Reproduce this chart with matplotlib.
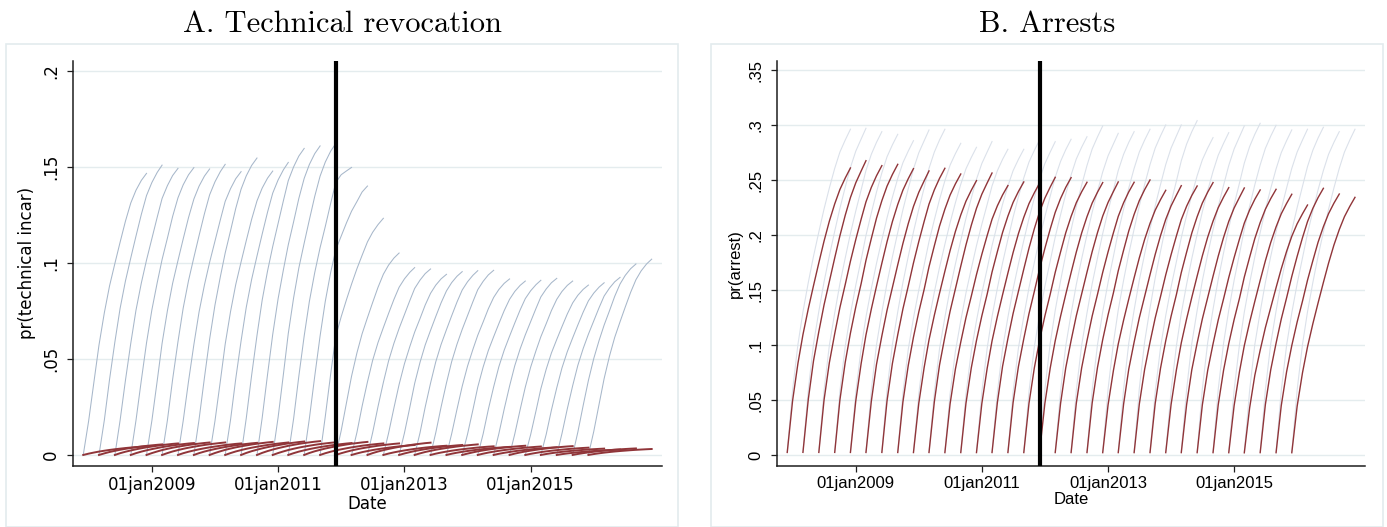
import numpy as np
import pandas as pd
import matplotlib
matplotlib.use("Agg")
import matplotlib.pyplot as plt
from matplotlib.patches import Rectangle
from datetime import datetime

# Quarterly release cohorts, each followed month by month for one year
cohort_starts = pd.date_range("2007-12-01", periods=33, freq="3MS")
months_since_release = np.arange(13)
reform_date = datetime(2011, 12, 1)

x_ticks = [datetime(2009, 1, 1), datetime(2011, 1, 1),
           datetime(2013, 1, 1), datetime(2015, 1, 1)]
x_tick_labels = ["01jan2009", "01jan2011", "01jan2013", "01jan2015"]

tech_yticks = [0, 0.05, 0.10, 0.15, 0.20]
tech_ytick_labels = ["0", ".05", ".1", ".15", ".2"]
arrest_yticks = [0, 0.05, 0.10, 0.15, 0.20, 0.25, 0.30, 0.35]
arrest_ytick_labels = ["0", ".05", ".1", ".15", ".2", ".25", ".3", ".35"]

# Panel A: 12-month probability of technical incarceration by cohort
tech_12m = [0.1467, 0.1510, 0.1493, 0.1497, 0.1490, 0.1514, 0.1476, 0.1547,
            0.1479, 0.1524, 0.1597, 0.1610, 0.1623, 0.1498, 0.1401, 0.1233,
            0.1052, 0.0976, 0.0969, 0.0941, 0.0955, 0.0960, 0.0962, 0.0917,
            0.0906, 0.0910, 0.0920, 0.0906, 0.0885, 0.0897, 0.0925, 0.0995,
            0.1020]
# share of the 12-month value reached after each month
tech_shape = [0.0, 0.12, 0.26, 0.39, 0.505, 0.60, 0.68, 0.755, 0.83,
              0.895, 0.94, 0.975, 1.0]
# cohorts whose follow-up year spans the reform date
tech_straddle = {
    13: [0.0, 0.019, 0.041, 0.062, 0.080, 0.095, 0.108, 0.119, 0.131,
         0.142, 0.146, 0.148, 0.1498],
    14: [0.0, 0.019, 0.041, 0.062, 0.080, 0.095, 0.107, 0.114, 0.121,
         0.127, 0.132, 0.137, 0.1401],
    15: [0.0, 0.020, 0.042, 0.062, 0.072, 0.081, 0.089, 0.097, 0.104,
         0.111, 0.116, 0.120, 0.1233],
}
# second outcome drawn in panel A
tech_other_12m = [0.0045, 0.0055, 0.0060, 0.0062, 0.0065, 0.0065, 0.0060, 0.0063,
                  0.0068, 0.0065, 0.0070, 0.0072, 0.0066, 0.0062, 0.0068, 0.0060,
                  0.0060, 0.0052, 0.0064, 0.0048, 0.0052, 0.0055, 0.0045, 0.0042,
                  0.0048, 0.0044, 0.0040, 0.0046, 0.0038, 0.0033, 0.0028, 0.0034,
                  0.0031]
tech_other_shape = [0.0, 0.15, 0.28, 0.39, 0.49, 0.58, 0.66, 0.73, 0.80,
                    0.86, 0.91, 0.96, 1.0]

# Panel B: 12-month probability of arrest by cohort
arrest_12m = [0.2612, 0.2678, 0.2633, 0.2645, 0.2606, 0.2585, 0.2609, 0.2557,
              0.2497, 0.2566, 0.2452, 0.2485, 0.2473, 0.2527, 0.2524, 0.2482,
              0.2479, 0.2485, 0.2482, 0.2503, 0.2409, 0.2451, 0.2448, 0.2479,
              0.2433, 0.2430, 0.2412, 0.2418, 0.2373, 0.2275, 0.2427, 0.2375,
              0.2345]
arrest_shape = [0.01, 0.19, 0.32, 0.42, 0.51, 0.59, 0.67, 0.745, 0.815,
                0.875, 0.925, 0.965, 1.0]
# comparison series drawn in light grey behind the arrest curves
arrest_other_12m = [0.2964, 0.2973, 0.2942, 0.2918, 0.2860, 0.2957, 0.2964, 0.2836,
                    0.2800, 0.2852, 0.2782, 0.2782, 0.2866, 0.2851, 0.2873, 0.2896,
                    0.2994, 0.2927, 0.2942, 0.2964, 0.3003, 0.3003, 0.3042, 0.2888,
                    0.2933, 0.2994, 0.3018, 0.3000, 0.2958, 0.2964, 0.2982, 0.2942,
                    0.2964]
arrest_other_shape = [0.01, 0.20, 0.34, 0.44, 0.53, 0.61, 0.685, 0.755, 0.82,
                      0.88, 0.93, 0.967, 1.0]

BLUE = "#a7b7ca"
RED = "#903539"
GREY = "#dbe1ea"
GRID = "#e4ecee"
AXIS = "#1e1e1e"
FRAME = "#e3ebee"

W, H = 1387, 527
fig = plt.figure(figsize=(W / 100, H / 100), dpi=100)
fig.patch.set_facecolor("white")

# outer frames of the two graph regions
for x0, x1 in [(6, 678), (711, 1383)]:
    fig.add_artist(Rectangle((x0 / W, 0.5 / H), (x1 - x0) / W, (527 - 44 - 0.5) / H,
                             transform=fig.transFigure, fill=False,
                             edgecolor=FRAME, linewidth=1.2))


def cohort_dates(start):
    return [start + pd.DateOffset(months=int(m)) for m in months_since_release]


def style_axes(ax, yticks, ylabels, ylim, font):
    ax.set_xlim(datetime(2007, 10, 1), datetime(2017, 1, 28))
    ax.set_ylim(*ylim)
    for side in ("top", "right"):
        ax.spines[side].set_visible(False)
    for side in ("left", "bottom"):
        ax.spines[side].set_color(AXIS)
        ax.spines[side].set_linewidth(1.1)
    ax.set_yticks(yticks)
    ax.set_yticklabels(ylabels, rotation=90, va="center", family=font, fontsize=12)
    ax.set_xticks(x_ticks)
    ax.set_xticklabels(x_tick_labels, family=font, fontsize=12)
    ax.tick_params(axis="both", direction="out", length=4.3, width=0.9,
                   color=AXIS)
    ax.tick_params(axis="y", pad=5)
    ax.tick_params(axis="x", pad=3)
    for yv in yticks:
        ax.axhline(yv, color=GRID, linewidth=1.0, zorder=0)
    ax.set_xlabel("Date", family=font, fontsize=12, labelpad=1)
    ax.axvline(reform_date, color="black", linewidth=3.0, zorder=10)


pos_y = (527 - 465.7) / H
pos_h = (465.7 - 60.7) / H

# Panel A
axA = fig.add_axes([72.7 / W, pos_y, 589 / W, pos_h])
for i, start in enumerate(cohort_starts):
    d = cohort_dates(start)
    if i in tech_straddle:
        vals = tech_straddle[i]
    else:
        vals = [tech_12m[i] * s for s in tech_shape]
    axA.plot(d, vals, color=BLUE, linewidth=0.75, zorder=2)
for i, start in enumerate(cohort_starts):
    d = cohort_dates(start)
    vals = [tech_other_12m[i] * s for s in tech_other_shape]
    axA.plot(d, vals, color=RED, linewidth=1.4, zorder=3)
style_axes(axA, tech_yticks, tech_ytick_labels, (-0.0056, 0.2054), "DejaVu Sans")
axA.set_ylabel("pr(technical incar)", family="DejaVu Sans", fontsize=12, labelpad=4)

# Panel B
axB = fig.add_axes([776.7 / W, pos_y, 588.3 / W, pos_h])
for i, start in enumerate(cohort_starts):
    d = cohort_dates(start)
    vals = [arrest_other_12m[i] * s for s in arrest_other_shape]
    axB.plot(d, vals, color=GREY, linewidth=0.8, zorder=2)
for i, start in enumerate(cohort_starts):
    d = cohort_dates(start)
    vals = [arrest_12m[i] * s for s in arrest_shape]
    axB.plot(d, vals, color=RED, linewidth=1.0, zorder=3)
style_axes(axB, arrest_yticks, arrest_ytick_labels, (-0.00945, 0.3587),
           "Liberation Sans")
axB.set_ylabel("pr(arrest)", family="Liberation Sans", fontsize=12, labelpad=4)

# panel titles
fig.text(342 / W, 1 - 32 / H, "A. Technical revocation", family="cmr10",
         fontsize=22, ha="center", va="baseline")
fig.text(1047 / W, 1 - 32 / H, "B. Arrests", family="cmr10",
         fontsize=22, ha="center", va="baseline")

fig.savefig("out.png", dpi=100, facecolor="white")
